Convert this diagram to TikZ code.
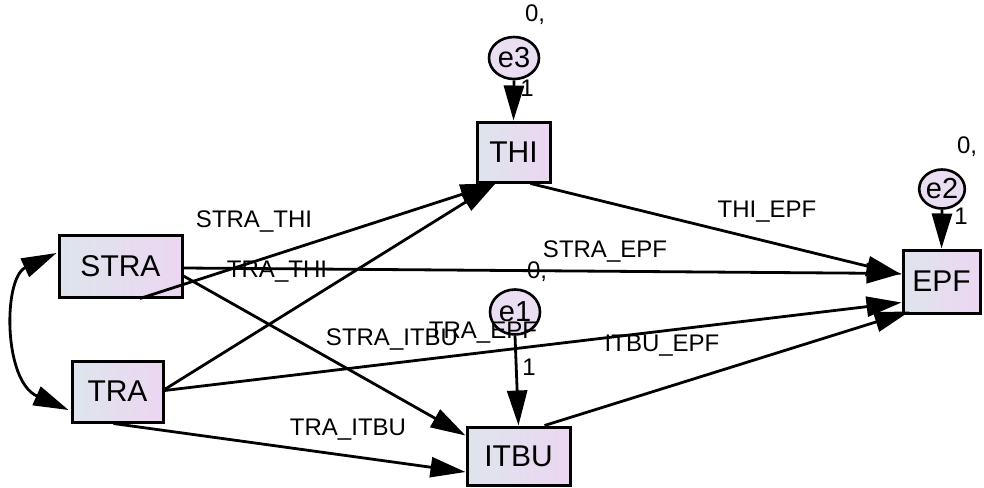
\documentclass[tikz,border=0pt]{standalone}
\usepackage{fontspec}
\setmainfont{Liberation Sans}
\usetikzlibrary{arrows.meta,calc,shapes.geometric}
\definecolor{boxL}{RGB}{222,229,236}
\definecolor{boxR}{RGB}{236,214,242}
\definecolor{errF}{RGB}{234,222,242}
\begin{document}
\begin{tikzpicture}[x=1pt,y=-1pt,
  box/.style={draw=black, line width=3pt, left color=boxL, right color=boxR, inner sep=0pt, font=\fontsize{30}{32}\selectfont},
  err/.style={ellipse, draw=black, line width=2.6pt, fill=errF, inner sep=0pt, font=\fontsize{29}{31}\selectfont},
  reg/.style={line width=2.8pt, -{Triangle[length=35pt,width=20pt]}},
  cov/.style={line width=2.8pt, {Triangle[length=35pt,width=20pt]}-{Triangle[length=35pt,width=20pt]}},
  lab/.style={font=\fontsize{24}{26}\selectfont, inner sep=0pt}]
\useasboundingbox (0,0) rectangle (984,487);

% observed variables
\node[box, minimum width=123pt, minimum height=62pt] (STRA) at (120.5,266) {STRA};
\node[box, minimum width=91pt, minimum height=61pt] (TRA) at (117.5,391.5) {TRA};
\node[box, minimum width=73pt, minimum height=60pt] (THI) at (513.5,152) {THI};
\node[box, minimum width=103pt, minimum height=58pt] (ITBU) at (518.5,456) {ITBU};
\node[box, minimum width=77pt, minimum height=63pt] (EPF) at (941.5,281.5) {EPF};

% error terms
\node[err, minimum width=50pt, minimum height=42pt] (e3) at (514,58) {e3};
\node[err, minimum width=43pt, minimum height=39pt] (e2) at (942,189) {e2};
\node[err, minimum width=50pt, minimum height=45pt] (e1) at (515,312) {e1};

% error paths
\draw[reg] (e3.south) -- (THI.north);
\draw[reg] (e2.south) -- (EPF.north);
\draw[reg] (e1.south) -- (ITBU.north);

% structural paths
\draw[reg] ($(STRA.south)+(19.5,0)$) -- ($(THI.south west)+(20,0)$);
\draw[reg] ($(TRA.east)+(0,-2)$) -- ($(THI.south west)+(20,0)$);
\draw[reg] ($(STRA.east)+(0,2)$) -- ($(EPF.west)+(0,-8)$);
\draw[reg] ($(STRA.east)+(0,10)$) -- ($(ITBU.north west)+(0,10)$);
\draw[reg] ($(TRA.east)+(0,-1)$) -- ($(EPF.west)+(0,21)$);
\draw[reg] ($(TRA.south)+(-4,0)$) -- ($(ITBU.west)+(0,16)$);
\draw[reg] ($(ITBU.north)+(26,0)$) -- ($(EPF.south west)+(8,-3)$);
\draw[reg] ($(THI.south)+(17,0)$) -- ($(EPF.west)+(0,-7)$);

% covariance
\draw[cov] ($(STRA.west)+(-1,-13)$) .. controls (3,278) and (3,381) .. ($(TRA.west)+(-2,18.5)$);

% path labels
\node[lab] (lSTRATHI) at (254,222) {STRA\_THI};
\node[lab] (lTRATHI) at (277,272) {TRA\_THI};
\node[lab] (lSTRAEPF) at (605,252) {STRA\_EPF};
\node[lab] (lTHIEPF) at (767,212) {THI\_EPF};
\node[lab] (lSTRAITBU) at (392,340) {STRA\_ITBU};
\node[lab] (lTRAEPF) at (483,333) {TRA\_EPF};
\node[lab] (lITBUEPF) at (662,346) {ITBU\_EPF};
\node[lab] (lTRAITBU) at (348,430) {TRA\_ITBU};

% weights and variances
\node[lab] (v3) at (535,15) {0,};
\node[lab] (v2) at (967,147) {0,};
\node[lab] (v1) at (537,272) {0,};
\node[lab] (w3) at (527,88) {1};
\node[lab] (w2) at (961,216) {1};
\node[lab] (w1) at (529,367) {1};
\end{tikzpicture}
\end{document}
